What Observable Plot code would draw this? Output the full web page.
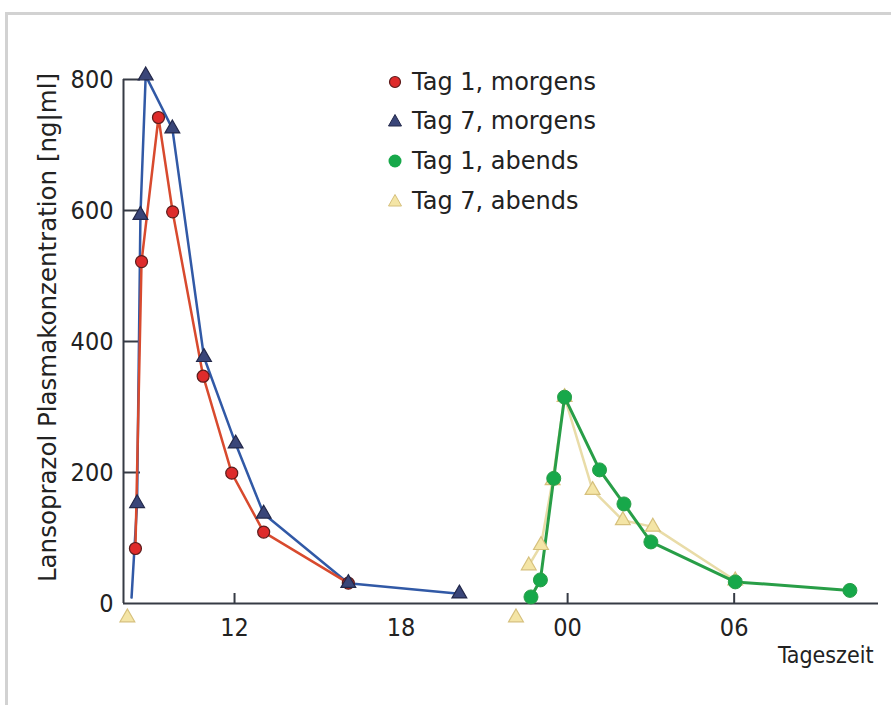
<!DOCTYPE html>
<html>
<head>
<meta charset="utf-8">
<script src="https://cdn.jsdelivr.net/npm/d3@7"></script>
<script src="https://cdn.jsdelivr.net/npm/@observablehq/plot@0.6"></script>
<style>
  html, body { margin: 0; padding: 0; background: #fff; }
  #wrap { position: relative; width: 891px; height: 705px; overflow: hidden; }
  #frame { position: absolute; left: 5px; top: 12px; width: 900px; height: 720px;
           border-top: 3px solid #d2d2d2; border-left: 3px solid #d2d2d2; }
  #chart { position: absolute; left: 0; top: 0; }
  #legend { position: absolute; left: 385px; top: 62px; font-family: "DejaVu Sans", sans-serif;
            font-size: 24px; color: #222; }
  .row { height: 39.6px; display: flex; align-items: center; }
  .row svg { width: 20px; height: 20px; margin-right: 7px; }
</style>
</head>
<body>
<div id="wrap">
  <div id="frame"></div>
  <div id="chart"></div>
  <div id="legend"></div>
</div>
<script>
// ---- data (hour of day, 8 = 08:00, 24 = 00:00 next day) ----
const seriesNames = ["Tag 1, morgens", "Tag 7, morgens", "Tag 1, abends", "Tag 7, abends"];

const hoursT1m = [8.43, 8.65, 9.26, 9.77, 10.87, 11.9, 13.05, 16.1];
const concT1m  = [84, 522, 742, 598, 347, 199, 109, 31];

const lineStartT7m = [8.29, 9];
const hoursT7m = [8.49, 8.61, 8.8, 9.76, 10.9, 12.04, 13.05, 16.1, 20.1];
const concT7m  = [153, 593, 806, 725, 376, 244, 137, 31, 15];

const hoursT1a = [22.68, 23.02, 23.5, 23.89, 25.15, 26.03, 27.0, 30.04, 34.17];
const concT1a  = [10, 36, 191, 315, 204, 152, 94, 33, 20];

const hoursT7a = [22.6, 23.04, 23.46, 23.89, 24.9, 25.99, 27.07, 30.04];
const concT7a  = [58, 89, 188, 315, 173, 127, 117, 35];
const predoseHoursT7a = [8.14, 22.14];
const predoseConcT7a  = [0, 0];

const yTicks = [0, 200, 400, 600, 800];
const xTickLabels = [12, 18, 24, 30];
const xTickMarks = [12, 24, 30];

const toRows = (h, c) => h.map((x, i) => ({hour: x, conc: c[i]}));
const t1m = toRows(hoursT1m, concT1m);
const t7m = toRows(hoursT7m, concT7m);
const t7mLine = [{hour: lineStartT7m[0], conc: lineStartT7m[1]}, ...t7m];
const t1a = toRows(hoursT1a, concT1a);
const t7a = toRows(hoursT7a, concT7a);
const t7aPre = toRows(predoseHoursT7a, predoseConcT7a);

const C = {
  redLine: "#d84a2e", redFill: "#de2b2b", redStroke: "#5b1c1c",
  blueLine: "#3159a6", blueFill: "#3a4679", blueStroke: "#23284a",
  greenLine: "#289e47", greenFill: "#17a84a",
  yellowLine: "#e9dca8", yellowFill: "#f4e5a6", yellowStroke: "#d6c07c",
  axis: "#363b45"
};

const W = 891, H = 705, ML = 123, MR = 13, MT = 79, MB = 102;
const frameW = W - ML - MR, frameH = H - MT - MB;
const tickFont = "'Liberation Sans Narrow', 'DejaVu Sans Condensed', sans-serif";
const labelFont = "'DejaVu Sans', sans-serif";

const chart = Plot.plot({
  width: W, height: H,
  marginLeft: ML, marginRight: MR, marginTop: MT, marginBottom: MB,
  x: {domain: [8, 35.2]},
  y: {domain: [0, 800]},
  style: {fontFamily: tickFont, fontSize: "25px", color: "#222", background: "transparent", overflow: "visible"},
  marks: [
    Plot.ruleX([8], {stroke: C.axis, strokeWidth: 2}),
    Plot.ruleY([0], {stroke: C.axis, strokeWidth: 2}),
    Plot.tickY(yTicks.slice(1), {y: d => d, stroke: C.axis, strokeWidth: 2, insetRight: frameW - 17}),
    Plot.tickX(xTickMarks, {x: d => d, stroke: C.axis, strokeWidth: 2, insetTop: frameH - 10}),
    Plot.axisY({ticks: yTicks, tickSize: 0, tickPadding: 10, label: null}),
    Plot.axisX({ticks: xTickLabels, tickSize: 0, tickPadding: 15, label: null,
                tickFormat: d => String(d % 24).padStart(2, "0")}),
    Plot.text(["Tageszeit"], {frameAnchor: "bottom-right", textAnchor: "end", dx: -5, dy: 59, fontSize: 23}),
    Plot.text(["Lansoprazol Plasmakonzentration [ng|ml]"], {frameAnchor: "left", textAnchor: "middle", rotate: -90,
                dx: -75, dy: -14, fontSize: 24.5, fontFamily: labelFont}),
    // lines
    Plot.line(t7a, {x: "hour", y: "conc", stroke: C.yellowLine, strokeWidth: 2.5}),
    Plot.line(t1a, {x: "hour", y: "conc", stroke: C.greenLine, strokeWidth: 3}),
    Plot.line(t7mLine, {x: "hour", y: "conc", stroke: C.blueLine, strokeWidth: 2.5}),
    Plot.line(t1m, {x: "hour", y: "conc", stroke: C.redLine, strokeWidth: 2.5}),
    // markers
    Plot.dot(t1m, {x: "hour", y: "conc", r: 6, fill: C.redFill, stroke: C.redStroke, strokeWidth: 1.2}),
    Plot.dot(t7m, {x: "hour", y: "conc", symbol: "triangle", r: 5.5, fill: C.blueFill, stroke: C.blueStroke, strokeWidth: 1.2}),
    Plot.dot(t7a, {x: "hour", y: "conc", symbol: "triangle", r: 5.5, fill: C.yellowFill, stroke: C.yellowStroke, strokeWidth: 1.2}),
    Plot.dot(t7aPre, {x: "hour", y: "conc", symbol: "triangle", r: 5.5, dy: 14, fill: C.yellowFill, stroke: C.yellowStroke, strokeWidth: 1.2}),
    Plot.dot(t1a, {x: "hour", y: "conc", r: 7, fill: C.greenFill, stroke: C.greenLine, strokeWidth: 1})
  ]
});
document.getElementById("chart").appendChild(chart);

// legend
const sym = [
  `<circle cx="10" cy="10" r="5.5" fill="${C.redFill}" stroke="${C.redStroke}" stroke-width="1.2"/>`,
  `<polygon points="10,3.5 16.5,15 3.5,15" fill="${C.blueFill}" stroke="${C.blueStroke}" stroke-width="1"/>`,
  `<circle cx="10" cy="10" r="6.5" fill="${C.greenFill}"/>`,
  `<polygon points="10,3.5 16.5,15 3.5,15" fill="${C.yellowFill}" stroke="${C.yellowStroke}" stroke-width="1"/>`
];
document.getElementById("legend").innerHTML = seriesNames.map((n, i) =>
  `<div class="row"><svg viewBox="0 0 20 20">${sym[i]}</svg><span>${n}</span></div>`).join("");
</script>
</body>
</html>
